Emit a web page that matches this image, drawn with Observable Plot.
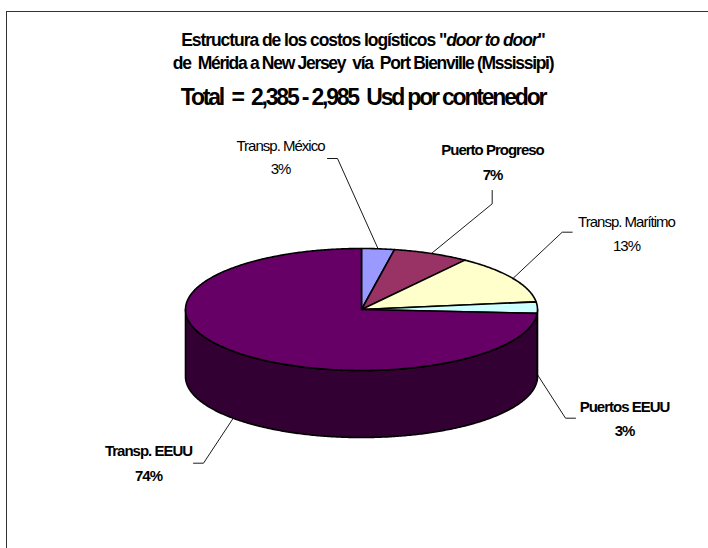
<!DOCTYPE html>
<html>
<head>
<meta charset="utf-8">
<script src="https://cdn.jsdelivr.net/npm/d3@7"></script>
<script src="https://cdn.jsdelivr.net/npm/@observablehq/plot@0.6"></script>
<style>
html, body { margin: 0; padding: 0; background: #fff; overflow: hidden; }
#wrap { position: relative; width: 708px; height: 548px; overflow: hidden; font-family: "Liberation Sans", Arial, sans-serif; }
#frame { position: absolute; left: 6px; top: 11px; width: 760px; height: 600px; border: 1.5px solid #333; box-sizing: border-box; }
#chart { position: absolute; left: 0; top: 0; }
.t { position: absolute; left: 0; width: 726px; text-align: center; font-weight: bold; white-space: pre; line-height: 1; color: #000; }
#chart svg text { letter-spacing: -1px; }
</style>
</head>
<body>
<div id="wrap">
  <div id="frame"></div>
  <div id="chart"></div>
  <div class="t" id="t1" style="top:31.9px;font-size:17.5px;letter-spacing:-1.05px"></div>
  <div class="t" id="t2" style="top:55.2px;font-size:17.5px;letter-spacing:-1.3px"></div>
  <div class="t" id="t3" style="top:85.5px;font-size:23px;letter-spacing:-2.2px"></div>
</div>
<script>
// ---- data ----
const categories = ["Transp. México", "Puerto Progreso", "Transp. Marítimo", "Puertos EEUU", "Transp. EEUU"];
const values = [3, 7, 13, 3, 74];
const boldLabel = [false, true, false, true, true];
const titleLine1 = ["Estructura de los costos logísticos \"", "door to door", "\""];
const titleLine2 = "de  Mérida a New Jersey  vía  Port Bienville (Mssissipi)";
const titleLine3 = "Total  =  2,385 - 2,985  Usd por contenedor";

// ---- styles / layout ----
const topColors = ["#9999ff", "#993366", "#ffffcc", "#ccffff", "#660066"];
const geom = {cx: 361, cy: 309, rx: 176, ry: 61, depth: 67};
const labelLayout = [
  {x: 280, y: 150.7, gap: 22.5, elbow: [[337, 158], [327, 158]], below: false},
  {x: 492, y: 154, gap: 25, elbow: [[491.7, 203.3], [491.7, 190]], below: false},
  {x: 626, y: 226.7, gap: 23.3, elbow: [[561.7, 231.7], [571.7, 231.7]], below: false},
  {x: 624, y: 411.7, gap: 23.3, elbow: [[565, 417.7], [575, 417.7]], below: true},
  {x: 148, y: 455, gap: 25, elbow: [[203, 462.7], [193, 462.7]], below: true}
];

// titles
const t1 = document.getElementById("t1");
t1.append(titleLine1[0]);
const it = document.createElement("i"); it.textContent = titleLine1[1]; t1.append(it);
t1.append(titleLine1[2]);
document.getElementById("t2").textContent = titleLine2;
document.getElementById("t3").textContent = titleLine3;

// geometry from values
const arcs = d3.pie().sort(null)(values);
const pt = (a, dz = 0) => ({x: geom.cx + geom.rx * Math.sin(a), y: geom.cy - geom.ry * Math.cos(a) + dz});
function arcPts(a0, a1, dz) {
  const n = Math.max(2, Math.ceil((a1 - a0) / 0.01));
  return d3.range(n + 1).map(i => pt(a0 + (a1 - a0) * i / n, dz));
}
const darker = c => { const r = d3.rgb(c); return d3.rgb(r.r * 0.5, r.g * 0.5, r.b * 0.5).formatHex(); };

const marks = [];
// side walls (front half)
arcs.forEach((a, i) => {
  const lo = Math.max(a.startAngle, Math.PI / 2), hi = Math.min(a.endAngle, 3 * Math.PI / 2);
  if (lo < hi) {
    const pts = arcPts(lo, hi, 0).concat(arcPts(lo, hi, geom.depth).reverse());
    marks.push(Plot.line(pts, {x: "x", y: "y", fill: darker(topColors[i]), stroke: "#000", strokeWidth: 1.6, curve: "linear-closed", strokeLinejoin: "round"}));
  }
});
// top faces
arcs.forEach((a, i) => {
  const pts = [{x: geom.cx, y: geom.cy}].concat(arcPts(a.startAngle, a.endAngle, 0));
  marks.push(Plot.line(pts, {x: "x", y: "y", fill: topColors[i], stroke: "#000", strokeWidth: 1.6, curve: "linear-closed", strokeLinejoin: "round"}));
});
// leader lines
arcs.forEach((a, i) => {
  const L = labelLayout[i];
  const mid = (a.startAngle + a.endAngle) / 2;
  const p0 = pt(mid, L.below ? geom.depth : 0);
  const pts = [p0, {x: L.elbow[0][0], y: L.elbow[0][1]}, {x: L.elbow[1][0], y: L.elbow[1][1]}];
  marks.push(Plot.line(pts, {x: "x", y: "y", stroke: "#000", strokeWidth: 0.9}));
});
// labels
const labelRows = [];
categories.forEach((c, i) => {
  const L = labelLayout[i];
  labelRows.push({x: L.x, y: L.y, text: c, bold: boldLabel[i]});
  labelRows.push({x: L.x, y: L.y + L.gap, text: values[i] + "%", bold: boldLabel[i]});
});
marks.push(Plot.text(labelRows.filter(d => !d.bold), {x: "x", y: "y", text: "text", textAnchor: "middle", lineAnchor: "bottom", fontSize: 15, fontWeight: "normal", fill: "#000"}));
marks.push(Plot.text(labelRows.filter(d => d.bold), {x: "x", y: "y", text: "text", textAnchor: "middle", lineAnchor: "bottom", fontSize: 15, fontWeight: "bold", fill: "#000"}));

const chart = Plot.plot({
  width: 708, height: 548, margin: 0,
  x: {domain: [0, 708], range: [0, 708], axis: null},
  y: {domain: [0, 548], range: [0, 548], axis: null},
  style: {background: "transparent", fontFamily: "Liberation Sans, Arial, sans-serif"},
  marks
});
document.getElementById("chart").append(chart);
</script>
</body>
</html>
